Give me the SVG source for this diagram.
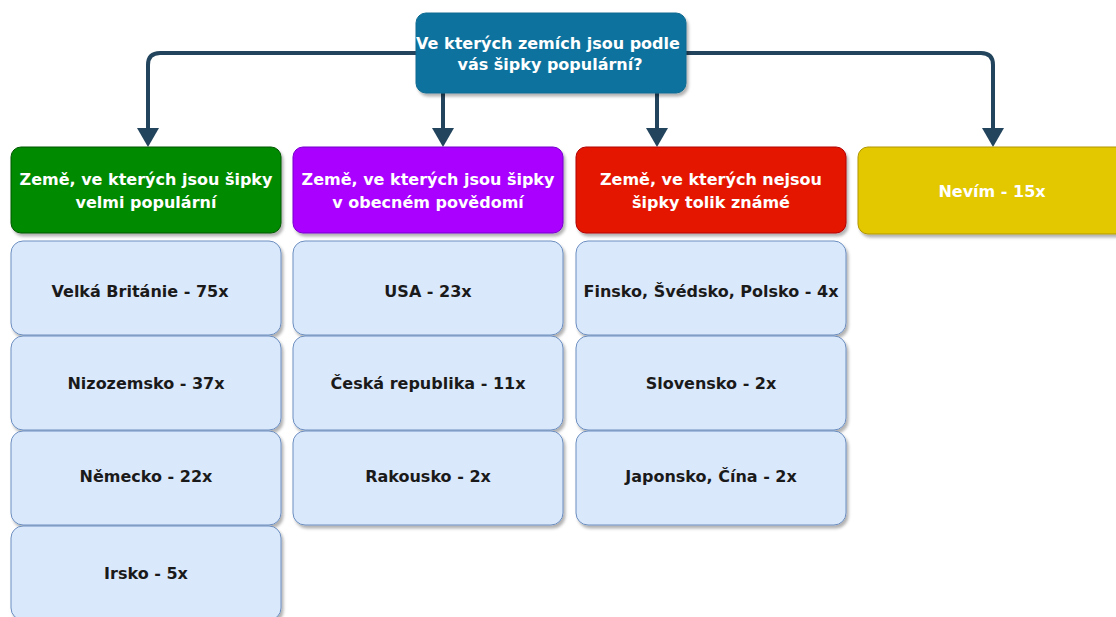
<svg xmlns="http://www.w3.org/2000/svg" width="1116" height="617" viewBox="0 0 1116 617">
<defs>
<filter id="sh" x="-10%" y="-10%" width="130%" height="140%">
<feDropShadow dx="2" dy="3" stdDeviation="1.5" flood-color="#000" flood-opacity="0.3"/>
</filter>
<style>
.t{font-family:"DejaVu Sans","Liberation Sans",Arial,sans-serif;font-weight:bold;font-size:16px;text-anchor:middle}
.w{fill:#ffffff}
.d{fill:#1a1a1a}
.hd{filter:url(#sh)}
.lb{fill:#dae8fc;stroke:#6c8ebf;stroke-width:1;filter:url(#sh)}
.cn{fill:none;stroke:#23445d;stroke-width:4;stroke-linejoin:round}
.ar{fill:#23445d}
</style>
</defs>
<g id="connectors">
<path class="cn" d="M416 53 H160 Q148 53 148 65 V132"/>
<polygon class="ar" points="137,128 159,128 148,147"/>
<path class="cn" d="M686 53 H981 Q993 53 993 65 V132"/>
<polygon class="ar" points="982,128 1004,128 993,147"/>
<path class="cn" d="M443 93 V132"/>
<polygon class="ar" points="432,128 454,128 443,147"/>
<path class="cn" d="M657 93 V132"/>
<polygon class="ar" points="646,128 668,128 657,147"/>
</g>
<g id="root">
<rect class="hd" x="416" y="13" width="270" height="80" rx="10" fill="#10739e" stroke="#0e6a91"/>
<text class="t w" x="548" y="49">Ve kterých zemích jsou podle</text>
<text class="t w" x="550" y="70">vás šipky populární?</text>
</g>
<g id="h1">
<rect class="hd" x="11" y="147" width="270" height="86" rx="10" fill="#008a00" stroke="#005700"/>
<text class="t w" x="146" y="185">Země, ve kterých jsou šipky</text>
<text class="t w" x="146" y="208">velmi populární</text>
</g>
<g id="h2">
<rect class="hd" x="293" y="147" width="270" height="86" rx="10" fill="#aa00ff" stroke="#7700cc"/>
<text class="t w" x="428" y="185">Země, ve kterých jsou šipky</text>
<text class="t w" x="428" y="208">v obecném povědomí</text>
</g>
<g id="h3">
<rect class="hd" x="576" y="147" width="270" height="86" rx="10" fill="#e51400" stroke="#b20000"/>
<text class="t w" x="711" y="185">Země, ve kterých nejsou</text>
<text class="t w" x="711" y="208">šipky tolik známé</text>
</g>
<g id="h4">
<rect class="hd" x="858" y="147" width="270" height="87" rx="10" fill="#e3c800" stroke="#b09500"/>
<text class="t w" x="992" y="197">Nevím - 15x</text>
</g>
<g id="c1r1"><rect class="lb" x="11" y="241" width="270" height="94" rx="12"/><text class="t d" x="140" y="297">Velká Británie - 75x</text></g>
<g id="c1r2"><rect class="lb" x="11" y="336" width="270" height="94" rx="12"/><text class="t d" x="146" y="389">Nizozemsko - 37x</text></g>
<g id="c1r3"><rect class="lb" x="11" y="431" width="270" height="94" rx="12"/><text class="t d" x="146" y="482">Německo - 22x</text></g>
<g id="c1r4"><rect class="lb" x="11" y="526" width="270" height="94" rx="12"/><text class="t d" x="146" y="579">Irsko - 5x</text></g>
<g id="c2r1"><rect class="lb" x="293" y="241" width="270" height="94" rx="12"/><text class="t d" x="428" y="297">USA - 23x</text></g>
<g id="c2r2"><rect class="lb" x="293" y="336" width="270" height="94" rx="12"/><text class="t d" x="428" y="389">Česká republika - 11x</text></g>
<g id="c2r3"><rect class="lb" x="293" y="431" width="270" height="94" rx="12"/><text class="t d" x="428" y="482">Rakousko - 2x</text></g>
<g id="c3r1"><rect class="lb" x="576" y="241" width="270" height="94" rx="12"/><text class="t d" x="711" y="297">Finsko, Švédsko, Polsko - 4x</text></g>
<g id="c3r2"><rect class="lb" x="576" y="336" width="270" height="94" rx="12"/><text class="t d" x="711" y="389">Slovensko - 2x</text></g>
<g id="c3r3"><rect class="lb" x="576" y="431" width="270" height="94" rx="12"/><text class="t d" x="711" y="482">Japonsko, Čína - 2x</text></g>
</svg>
